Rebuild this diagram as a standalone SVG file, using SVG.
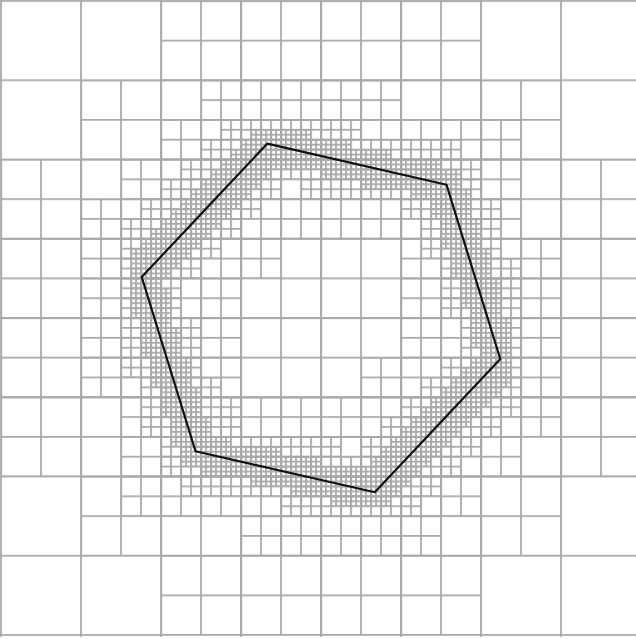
<svg xmlns="http://www.w3.org/2000/svg" width="636" height="639" viewBox="0 0 636 639">
<style>
.gl{stroke:#a8a8a8;stroke-width:1.8;fill:none}
.hex{stroke:#111;stroke-width:2.2;fill:none;stroke-linejoin:round}
</style>
<defs>
<pattern id="g80" width="80" height="80" patternUnits="userSpaceOnUse" x="-0.9" y="-0.9"><path class="gl" d="M0.9 0V80M0 0.9H80"/></pattern>
<pattern id="g40" width="40" height="40" patternUnits="userSpaceOnUse" x="-0.9" y="-0.9"><path class="gl" d="M0.9 0V40M0 0.9H40"/></pattern>
<pattern id="g20" width="20" height="20" patternUnits="userSpaceOnUse" x="-0.9" y="-0.9"><path class="gl" d="M0.9 0V20M0 0.9H20"/></pattern>
<pattern id="g10" width="10" height="10" patternUnits="userSpaceOnUse" x="-0.9" y="-0.9"><path class="gl" d="M0.9 0V10M0 0.9H10"/></pattern>
<pattern id="g5" width="5" height="5" patternUnits="userSpaceOnUse" x="-0.9" y="-0.9"><path class="gl" d="M0.9 0V5M0 0.9H5"/></pattern>
<clipPath id="r4">
<rect x="160" y="0" width="320" height="80"/>
<rect x="80" y="80" width="480" height="80"/>
<rect x="0" y="160" width="640" height="320"/>
<rect x="80" y="480" width="480" height="80"/>
<rect x="160" y="560" width="320" height="80"/>
</clipPath>
<clipPath id="r5">
<rect x="200" y="80" width="200" height="40"/>
<rect x="160" y="120" width="360" height="40"/>
<rect x="120" y="160" width="400" height="40"/>
<rect x="80" y="200" width="440" height="40"/>
<rect x="80" y="240" width="200" height="40"/>
<rect x="400" y="240" width="160" height="40"/>
<rect x="80" y="280" width="160" height="80"/>
<rect x="400" y="280" width="160" height="80"/>
<rect x="80" y="360" width="160" height="40"/>
<rect x="360" y="360" width="200" height="40"/>
<rect x="120" y="400" width="440" height="40"/>
<rect x="120" y="440" width="400" height="40"/>
<rect x="120" y="480" width="360" height="40"/>
<rect x="240" y="520" width="200" height="40"/>
</clipPath>
<clipPath id="r6">
<rect x="220" y="120" width="140" height="20"/>
<rect x="200" y="140" width="260" height="20"/>
<rect x="180" y="160" width="300" height="20"/>
<rect x="160" y="180" width="120" height="20"/>
<rect x="300" y="180" width="180" height="20"/>
<rect x="140" y="200" width="120" height="20"/>
<rect x="400" y="200" width="100" height="20"/>
<rect x="120" y="220" width="120" height="20"/>
<rect x="420" y="220" width="80" height="20"/>
<rect x="120" y="240" width="100" height="20"/>
<rect x="420" y="240" width="80" height="20"/>
<rect x="120" y="260" width="80" height="20"/>
<rect x="440" y="260" width="80" height="20"/>
<rect x="120" y="280" width="60" height="40"/>
<rect x="440" y="280" width="80" height="40"/>
<rect x="120" y="320" width="80" height="60"/>
<rect x="460" y="320" width="60" height="40"/>
<rect x="440" y="360" width="80" height="20"/>
<rect x="140" y="380" width="80" height="20"/>
<rect x="420" y="380" width="100" height="20"/>
<rect x="140" y="400" width="100" height="40"/>
<rect x="400" y="400" width="120" height="20"/>
<rect x="380" y="420" width="120" height="20"/>
<rect x="160" y="440" width="180" height="20"/>
<rect x="360" y="440" width="120" height="20"/>
<rect x="160" y="460" width="300" height="20"/>
<rect x="180" y="480" width="260" height="20"/>
<rect x="280" y="500" width="140" height="20"/>
</clipPath>
<clipPath id="r7">
<rect x="250" y="130" width="60" height="10"/>
<rect x="240" y="140" width="110" height="10"/>
<rect x="230" y="150" width="160" height="10"/>
<rect x="220" y="160" width="220" height="10"/>
<rect x="210" y="170" width="60" height="10"/>
<rect x="320" y="170" width="140" height="10"/>
<rect x="200" y="180" width="60" height="10"/>
<rect x="360" y="180" width="100" height="10"/>
<rect x="190" y="190" width="60" height="10"/>
<rect x="410" y="190" width="60" height="10"/>
<rect x="180" y="200" width="60" height="10"/>
<rect x="430" y="200" width="40" height="10"/>
<rect x="170" y="210" width="60" height="10"/>
<rect x="430" y="210" width="40" height="10"/>
<rect x="160" y="220" width="60" height="10"/>
<rect x="440" y="220" width="40" height="10"/>
<rect x="150" y="230" width="60" height="10"/>
<rect x="440" y="230" width="40" height="10"/>
<rect x="140" y="240" width="60" height="10"/>
<rect x="440" y="240" width="40" height="10"/>
<rect x="130" y="250" width="60" height="10"/>
<rect x="450" y="250" width="40" height="10"/>
<rect x="130" y="260" width="50" height="10"/>
<rect x="450" y="260" width="40" height="10"/>
<rect x="130" y="270" width="40" height="10"/>
<rect x="450" y="270" width="40" height="10"/>
<rect x="130" y="280" width="30" height="10"/>
<rect x="460" y="280" width="40" height="10"/>
<rect x="130" y="290" width="40" height="20"/>
<rect x="460" y="290" width="40" height="20"/>
<rect x="130" y="310" width="40" height="10"/>
<rect x="470" y="310" width="30" height="10"/>
<rect x="140" y="320" width="30" height="10"/>
<rect x="470" y="320" width="40" height="10"/>
<rect x="140" y="330" width="40" height="20"/>
<rect x="470" y="330" width="40" height="20"/>
<rect x="140" y="350" width="40" height="10"/>
<rect x="480" y="350" width="30" height="10"/>
<rect x="150" y="360" width="40" height="10"/>
<rect x="470" y="360" width="40" height="10"/>
<rect x="150" y="370" width="40" height="10"/>
<rect x="460" y="370" width="50" height="10"/>
<rect x="150" y="380" width="40" height="10"/>
<rect x="450" y="380" width="60" height="10"/>
<rect x="160" y="390" width="40" height="30"/>
<rect x="440" y="390" width="60" height="10"/>
<rect x="430" y="400" width="60" height="10"/>
<rect x="420" y="410" width="60" height="10"/>
<rect x="170" y="420" width="40" height="20"/>
<rect x="410" y="420" width="60" height="10"/>
<rect x="400" y="430" width="60" height="10"/>
<rect x="170" y="440" width="60" height="10"/>
<rect x="390" y="440" width="60" height="10"/>
<rect x="180" y="450" width="100" height="10"/>
<rect x="380" y="450" width="60" height="10"/>
<rect x="180" y="460" width="140" height="10"/>
<rect x="370" y="460" width="60" height="10"/>
<rect x="200" y="470" width="220" height="10"/>
<rect x="250" y="480" width="160" height="10"/>
<rect x="290" y="490" width="110" height="10"/>
<rect x="330" y="500" width="60" height="10"/>
</clipPath>
</defs>
<rect x="0" y="0" width="636" height="639" fill="#fff"/>
<g id="mesh" transform="translate(1 1) scale(1 0.9906)">
<rect id="level3" x="-1" y="-1" width="643" height="643" fill="url(#g80)"/>
<rect id="level4" x="-1" y="-1" width="643" height="643" fill="url(#g40)" clip-path="url(#r4)"/>
<rect id="level5" x="-1" y="-1" width="643" height="643" fill="url(#g20)" clip-path="url(#r5)"/>
<rect id="level6" x="-1" y="-1" width="643" height="643" fill="url(#g10)" clip-path="url(#r6)"/>
<rect id="level7" x="-1" y="-1" width="643" height="643" fill="url(#g5)" clip-path="url(#r7)"/>
<polygon id="hexagon" class="hex" points="266.2,144.04 445.49,185.43 499.28,361.39 373.8,495.96 194.51,454.57 140.72,278.61"/>
</g>
</svg>
